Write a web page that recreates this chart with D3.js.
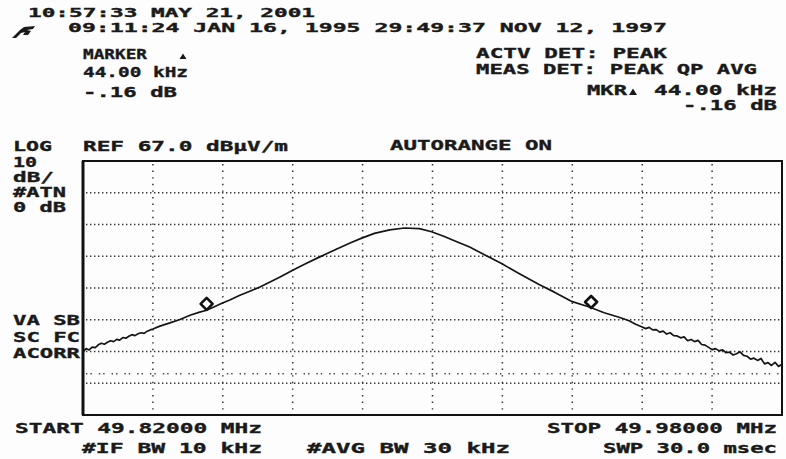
<!DOCTYPE html>
<html><head><meta charset="utf-8">
<script src="https://cdn.jsdelivr.net/npm/d3@7"></script>
<style>
html,body{margin:0;padding:0;background:#fff;}
svg{display:block;}
text{font-family:"DejaVu Sans Mono",monospace;font-weight:bold;fill:#1a1a1a;stroke:#1a1a1a;stroke-width:0.35px;}
</style></head>
<body>
<script>
// ---- data ----
const startMHz = 49.82;
const stopMHz = 49.98;
const refLevel = 67.0;          // dBuV/m, top of graticule
const dbPerDiv = 10;
const numYDiv = 8;
const numXDiv = 10;
const displayLine = 0;          // dBuV/m

// trace: frequency offset from start (kHz) and level (dBuV/m)
const offsetKHz = [0,0.7,1.4,2.1,2.8,3.5,4.2,4.9,5.6,6.3,7.0,7.7,8.4,9.1,9.8,10.5,11.2,11.9,12.6,13.3,14.0,14.7,15.4,16.0,
  17.6,19.9,22.2,24.5,26.7,28.3,30.2,31.8,33.6,35.9,38.2,40.5,42.7,45.0,48.0,50.7,54.2,57.6,61.0,63.8,66.7,70.2,73.6,77.0,
  79.8,82.7,85.7,88.5,91.9,95.8,99.9,104.5,107.9,112.0,115.9,119.3,122.7,125.0,126.5,
  128.0,128.8,129.6,130.4,131.2,132.0,132.8,133.6,134.4,135.2,136.0,136.8,137.6,138.4,139.2,140.0,140.8,141.6,142.4,143.2,
  144.0,144.8,145.6,146.4,147.2,148.0,148.8,149.6,150.4,151.2,152.0,152.8,153.6,154.4,155.2,156.0,156.8,157.6,158.4,159.2,160.0];
const levelDB = [6.8,7.9,7.5,8.4,8.2,9.1,9.6,9.3,9.9,10.4,10.1,10.8,10.6,11.4,11.2,11.8,12.3,12.0,12.6,12.9,12.7,13.4,13.8,14.1,
  15.0,16.0,17.1,18.4,19.4,20.0,21.2,22.2,23.2,24.7,26.0,27.3,28.8,30.4,32.6,34.5,36.8,39.0,41.1,42.7,44.2,45.3,45.9,45.7,
  44.7,43.2,41.5,39.9,37.5,34.7,31.5,28.0,25.7,22.7,21.0,19.2,17.8,16.7,15.6,
  14.7,14.2,14.6,13.8,13.9,13.1,13.4,12.5,12.9,12.0,11.9,11.3,11.6,10.4,10.8,10.1,10.5,9.2,9.0,8.3,
  7.6,7.9,7.2,7.5,6.6,6.8,5.9,6.3,6.9,5.8,5.5,4.6,4.9,4.2,4.8,3.1,3.5,2.6,3.6,2.3,3.0];

// markers (diamonds)
const markerKHz = [28.3, 116.3];
const markerDB = [22.0, 22.6];

// ---- layout ----
const W = 786, H = 459;
const L = 83, R = 782, T = 161, B = 415;

const svg = d3.select("body").append("svg").attr("width", W).attr("height", H);
svg.append("rect").attr("width", W).attr("height", H).attr("fill", "#fdfdfd");

const x = d3.scaleLinear().domain([startMHz, stopMHz]).range([L, R]);
const y = d3.scaleLinear().domain([refLevel - numYDiv*dbPerDiv, refLevel]).range([B, T]);

// grid
const xTicks = d3.range(1, numXDiv).map(i => startMHz + i*(stopMHz-startMHz)/numXDiv);
const yTicks = d3.range(1, numYDiv).map(i => refLevel - i*dbPerDiv);
const g = svg.append("g");
g.selectAll("line.h").data(yTicks).join("line")
  .attr("x1", L+3).attr("x2", R).attr("y1", d=>y(d)).attr("y2", d=>y(d))
  .attr("stroke", "#333").attr("stroke-width", 1.4).attr("stroke-dasharray", "1.4,2.6");
g.selectAll("line.v").data(xTicks).join("line")
  .attr("x1", d=>x(d)).attr("x2", d=>x(d)).attr("y1", T+3).attr("y2", B)
  .attr("stroke", "#333").attr("stroke-width", 1.5).attr("stroke-dasharray", "1.4,5.2");
// display line
g.append("line").attr("x1", L+3).attr("x2", R).attr("y1", y(displayLine)).attr("y2", y(displayLine))
  .attr("stroke", "#444").attr("stroke-width", 1.3).attr("stroke-dasharray", "1.4,3,1.4,7");

// frame
svg.append("rect").attr("x", L).attr("y", T).attr("width", R-L).attr("height", B-T)
  .attr("fill", "none").attr("stroke", "#111").attr("stroke-width", 2);
svg.append("line").attr("x1", L).attr("x2", L).attr("y1", T).attr("y2", B)
  .attr("stroke", "#111").attr("stroke-width", 3);

// trace
const pts = offsetKHz.map((k,i) => [startMHz + k/1000, levelDB[i]]);
const line = d3.line().x(d=>x(d[0])).y(d=>y(d[1]));
svg.append("path").datum(pts).attr("d", line).attr("fill", "none")
  .attr("stroke", "#151515").attr("stroke-width", 1.7).attr("stroke-linejoin", "round");

// markers
const ds = 6;
svg.selectAll("path.mk").data(markerKHz.map((k,i)=>[startMHz + k/1000, markerDB[i]])).join("path")
  .attr("d", d => { const cx = x(d[0]), cy = y(d[1]);
    return `M${cx},${cy-ds}L${cx+ds},${cy}L${cx},${cy+ds}L${cx-ds},${cy}Z`; })
  .attr("fill", "none").attr("stroke", "#111").attr("stroke-width", 2.6).attr("stroke-linejoin", "round");

// texts: [text, x-left, x-right, baseline, size]
const labels = [
  ["10:57:33 MAY 21, 2001", 28, 315, 17, 12],
  ["09:11:24 JAN 16, 1995 29:49:37 NOV 12, 1997", 68, 667, 32, 12],
  ["MARKER", 83, 147, 59, 14],
  ["44.00 kHz", 83, 188, 77, 14],
  ["-.16 dB", 83, 177, 97, 14],
  ["ACTV DET: PEAK", 476, 667, 58, 14],
  ["MEAS DET: PEAK QP AVG", 476, 757, 74, 14],
  ["MKR", 587, 627, 95, 14],
  ["44.00 kHz", 654, 777, 95, 14],
  ["-.16 dB", 683, 777, 110, 14],
  ["LOG", 13, 52, 151, 14],
  ["REF 67.0 dBµV/m", 83, 288, 151, 14],
  ["AUTORANGE ON", 390, 552, 150, 14],
  ["10", 13, 37, 167, 14],
  ["dB/", 13, 54, 182, 14],
  ["#ATN", 13, 66, 197, 14],
  ["0 dB", 13, 66, 212, 14],
  ["VA SB", 13, 80, 325, 14],
  ["SC FC", 13, 80, 342, 14],
  ["ACORR", 13, 80, 358, 14],
  ["START 49.82000 MHz", 15, 262, 433, 14],
  ["#IF BW 10 kHz", 82, 262, 453, 14],
  ["#AVG BW 30 kHz", 307, 510, 453, 14],
  ["STOP 49.98000 MHz", 547, 777, 433, 14],
  ["SWP 30.0 msec", 603, 777, 453, 14]
];
svg.selectAll("text.lb").data(labels).join("text")
  .attr("x", d=>d[1]).attr("y", d=>d[3])
  .attr("font-size", d=>d[4])
  .attr("textLength", d=>d[2]-d[1]).attr("lengthAdjust", "spacingAndGlyphs")
  .text(d=>d[0]);

// delta triangles
const tri = [[183, 59, 3.5], [633, 95, 4]];
svg.selectAll("path.tri").data(tri).join("path")
  .attr("d", d=>`M${d[0]-d[2]},${d[1]}L${d[0]+d[2]},${d[1]}L${d[0]},${d[1]-d[2]*1.6}Z`)
  .attr("fill", "#1a1a1a");

// logo
svg.append("path")
  .attr("d", "M12,38 L20,30 L24,27 L35,26 L33,29 L27,30 L31,31 L28,35 L23,35 L25,32 L21,33 L16,38 Z")
  .attr("fill", "#1a1a1a");
</script>
</body></html>
